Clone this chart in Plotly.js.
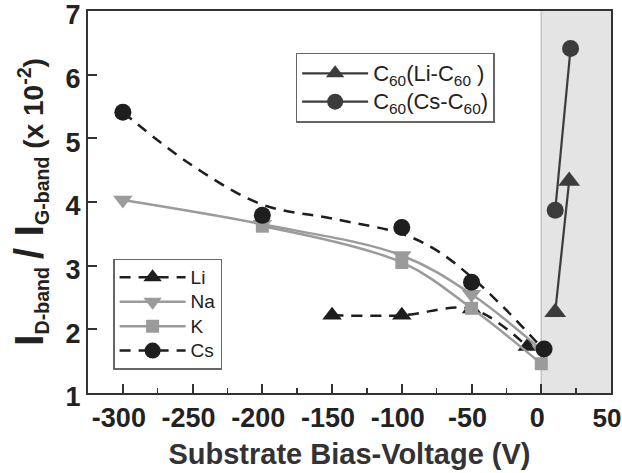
<!DOCTYPE html>
<html><head><meta charset="utf-8">
<script src="https://cdn.plot.ly/plotly-3.0.1.min.js"></script>
<style>html,body{margin:0;padding:0;background:#fff}#chart{width:622px;height:473px}</style>
</head><body><div id="chart"></div>
<script>
// Data
const liX = [-150, -100, -50, -10];
const liY = [2.22, 2.22, 2.32, 1.73];
const naX = [-300, -200, -100, -50, 0];
const naY = [4.03, 3.65, 3.16, 2.55, 1.68];
const kX = [-200, -100, -50, 0];
const kY = [3.62, 3.05, 2.33, 1.46];
const csX = [-300, -200, -100, -50, 2];
const csY = [5.41, 3.79, 3.60, 2.74, 1.69];
// dashed guide curve drawn through the Cs data in the reference
const csFitX = [-300, -250, -200, -150, -100, -75, -50, -25, 0];
const csFitY = [5.41, 4.57, 3.96, 3.74, 3.50, 3.24, 2.82, 2.30, 1.72];
const c60LiX = [10, 20];
const c60LiY = [2.27, 4.33];
const c60CsX = [10, 21];
const c60CsY = [3.87, 6.41];
const xTicks = [-300, -250, -200, -150, -100, -50, 0, 50];
const xTickText = ['-300', '-250', '-200', '-150', '-100', '-50', '0', '<span style="font-size:26px">50</span>'];
const yTicks = [1, 2, 3, 4, 5, 6, 7];
const names1 = ['Li', 'Na', 'K', 'Cs'];
const names2 = ['C<sub>60</sub>(Li-C<sub>60</sub> )', 'C<sub>60</sub>(Cs-C<sub>60</sub>)'];

const black = '#1e1e1e', gray = '#9b9b9b', dark = '#3c3c3c';
const dash = '11px,8px';
const big1 = s => '<span style="font-size:19px">' + s + '</span>';
const big2 = s => '<span style="font-size:22px">' + s + '</span>';
const traces = [
  {x: liX, y: liY, name: big1(names1[0]), mode: 'lines+markers', legend: 'legend',
   line: {color: black, width: 2.5, dash: dash, shape: 'spline'},
   marker: {symbol: 'triangle-up', size: 17, color: black}},
  {x: naX, y: naY, name: big1(names1[1]), mode: 'lines+markers', legend: 'legend',
   line: {color: gray, width: 2.5, shape: 'spline'},
   marker: {symbol: 'triangle-down', size: 17, color: gray}},
  {x: kX, y: kY, name: big1(names1[2]), mode: 'lines+markers', legend: 'legend',
   line: {color: gray, width: 2.5, shape: 'spline'},
   marker: {symbol: 'square', size: 13, color: gray}},
  {x: csFitX, y: csFitY, mode: 'lines', showlegend: false, hoverinfo: 'skip',
   line: {color: black, width: 2.5, dash: dash, shape: 'spline'}},
  {x: csX, y: csY, mode: 'markers', showlegend: false,
   marker: {symbol: 'circle', size: 17, color: black}},
  {x: [null], y: [null], name: big1(names1[3]), mode: 'lines+markers', legend: 'legend',
   line: {color: black, width: 2.5, dash: dash},
   marker: {symbol: 'circle', size: 17, color: black}},
  {x: c60LiX, y: c60LiY, name: big2(names2[0]), mode: 'lines+markers', legend: 'legend2',
   line: {color: dark, width: 2.2},
   marker: {symbol: 'triangle-up', size: 19, color: dark}},
  {x: c60CsX, y: c60CsY, name: big2(names2[1]), mode: 'lines+markers', legend: 'legend2',
   line: {color: dark, width: 2.2},
   marker: {symbol: 'circle', size: 17, color: dark}}
];

const fontFam = 'Liberation Sans, Arial, sans-serif';
const layout = {
  width: 622, height: 473,
  margin: {l: 88, r: 11, t: 11, b: 80},
  paper_bgcolor: '#fff', plot_bgcolor: '#fff',
  font: {family: fontFam, color: '#222'},
  xaxis: {
    range: [-325, 50], tickvals: xTicks, ticktext: xTickText, ticklabeloverflow: 'allow', ticklabelshift: -4,
    ticks: 'inside', ticklen: 9, tickwidth: 2, tickcolor: '#333',
    minor: {dtick: 25, ticks: 'inside', ticklen: 5, tickwidth: 1.5, tickcolor: '#333'},
    showgrid: false, zeroline: false, showline: true, linecolor: '#333', linewidth: 2, mirror: true,
    tickfont: {size: 27, weight: 'bold', family: fontFam, color: '#222'},
    title: {text: 'Substrate Bias-Voltage (V)', font: {size: 29, weight: 'bold', family: fontFam, color: '#333'}, standoff: 11}
  },
  yaxis: {
    range: [1, 7], tickvals: yTicks, ticktext: yTicks.map(String), ticklabeloverflow: 'allow', ticklabelshift: 4,
    ticks: 'inside', ticklen: 9, tickwidth: 2, tickcolor: '#333',
    showgrid: false, zeroline: false, showline: true, linecolor: '#333', linewidth: 2, mirror: true,
    tickfont: {size: 27, weight: 'bold', family: fontFam, color: '#222'},
    title: {text: '<span style="font-size:41px">I</span><sub>D-band</sub> <span style="font-size:41px">/ I</span><sub>G-band</sub> (x 10<sup>-2</sup>)',
            font: {size: 28, weight: 'bold', family: fontFam, color: '#222'}, standoff: 14}
  },
  shapes: [
    {type: 'rect', xref: 'x', yref: 'paper', x0: 0, x1: 50, y0: 0, y1: 1, fillcolor: '#e4e4e4', line: {width: 0}, layer: 'below'},
    {type: 'line', xref: 'x', yref: 'paper', x0: 0, x1: 0, y0: 0, y1: 1, line: {color: '#c4c4c4', width: 1.5}, layer: 'below'}
  ],
  legend: {x: 0.048, y: 0.352, xanchor: 'left', yanchor: 'top', bgcolor: '#fff', bordercolor: '#666', borderwidth: 1.5,
           font: {size: 16.5, family: fontFam, color: '#222'}, itemwidth: 66, tracegroupgap: 0, entrywidth: 112},
  legend2: {x: 0.397, y: 0.891, xanchor: 'left', yanchor: 'top', bgcolor: '#fff', bordercolor: '#666', borderwidth: 1.5,
           font: {size: 19.5, family: fontFam, color: '#222'}, itemwidth: 66, tracegroupgap: 0, entrywidth: 228},
  showlegend: true
};
Plotly.newPlot('chart', traces, layout, {displayModeBar: false, staticPlot: true});
</script></body></html>
